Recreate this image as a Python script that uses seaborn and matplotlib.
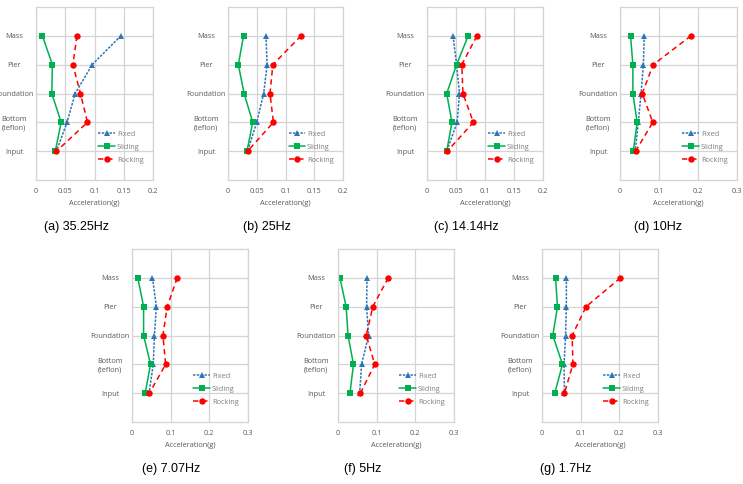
import matplotlib
matplotlib.use("Agg")
import matplotlib.pyplot as plt
import pandas as pd
import seaborn as sns

# levels from top to bottom
levels = ["Mass", "Pier", "Foundation", "Bottom\n(teflon)", "Input"]
level_pos = [5, 4, 3, 2, 1]
cases = ["Fixed", "Sliding", "Rocking"]

# (a) 35.25Hz
fixed_a = [0.145, 0.096, 0.067, 0.053, 0.035]
sliding_a = [0.011, 0.028, 0.027, 0.043, 0.033]
rocking_a = [0.070, 0.063, 0.076, 0.088, 0.035]
# (b) 25Hz
fixed_b = [0.066, 0.068, 0.062, 0.050, 0.034]
sliding_b = [0.027, 0.018, 0.028, 0.043, 0.033]
rocking_b = [0.127, 0.078, 0.073, 0.079, 0.034]
# (c) 14.14Hz
fixed_c = [0.045, 0.051, 0.056, 0.052, 0.034]
sliding_c = [0.071, 0.051, 0.034, 0.043, 0.034]
rocking_c = [0.086, 0.060, 0.062, 0.080, 0.035]
# (d) 10Hz
fixed_d = [0.062, 0.060, 0.054, 0.047, 0.039]
sliding_d = [0.027, 0.033, 0.033, 0.044, 0.034]
rocking_d = [0.182, 0.085, 0.057, 0.084, 0.040]
# (e) 7.07Hz
fixed_e = [0.053, 0.063, 0.058, 0.055, 0.044]
sliding_e = [0.015, 0.030, 0.030, 0.048, 0.034]
rocking_e = [0.117, 0.091, 0.080, 0.087, 0.045]
# (f) 5Hz
fixed_f = [0.075, 0.074, 0.079, 0.061, 0.056]
sliding_f = [0.005, 0.021, 0.026, 0.040, 0.031]
rocking_f = [0.130, 0.090, 0.073, 0.095, 0.058]
# (g) 1.7Hz
fixed_g = [0.063, 0.063, 0.061, 0.057, 0.058]
sliding_g = [0.035, 0.040, 0.028, 0.053, 0.033]
rocking_g = [0.203, 0.114, 0.078, 0.080, 0.058]

captions = ["(a) 35.25Hz", "(b) 25Hz", "(c) 14.14Hz", "(d) 10Hz",
            "(e) 7.07Hz", "(f) 5Hz", "(g) 1.7Hz"]

ticks_small = [0, 0.05, 0.1, 0.15, 0.2]
ticklabels_small = ["0", "0.05", "0.1", "0.15", "0.2"]
ticks_large = [0, 0.1, 0.2, 0.3]
ticklabels_large = ["0", "0.1", "0.2", "0.3"]

panels = [
    (fixed_a, sliding_a, rocking_a, "small"),
    (fixed_b, sliding_b, rocking_b, "small"),
    (fixed_c, sliding_c, rocking_c, "small"),
    (fixed_d, sliding_d, rocking_d, "large"),
    (fixed_e, sliding_e, rocking_e, "large"),
    (fixed_f, sliding_f, rocking_f, "large"),
    (fixed_g, sliding_g, rocking_g, "large"),
]

palette = {"Fixed": "#2E75B6", "Sliding": "#00B050", "Rocking": "#FF0000"}
markers = {"Fixed": "^", "Sliding": "s", "Rocking": "o"}
dashes = {"Fixed": (1.6, 0.9), "Sliding": "", "Rocking": (3.5, 2.5)}

sns.set_theme(style="whitegrid")
plt.rcParams["font.family"] = ["Open Sans", "DejaVu Sans"]

W, H = 743, 484
fig = plt.figure(figsize=(W / 100, H / 100), dpi=100)

# axes boxes in pixels: (left, right, top, bottom)
boxes = [
    (36, 153, 7, 180), (228, 343, 7, 180), (427, 543, 7, 180), (620, 737, 7, 180),
    (132, 248, 249, 422), (338, 454, 249, 422), (542, 658, 249, 422),
]
cap_pos = [(76, 227), (267, 227), (466, 227), (658, 227),
           (171, 469), (363, 469), (566, 469)]

grid_c = "#D4D4D4"
text_c = "#595959"

for (fx, sl, rk, scale), (l, r, t, b), cap, (cx, cy) in zip(panels, boxes, captions, cap_pos):
    ax = fig.add_axes([l / W, 1 - b / H, (r - l) / W, (b - t) / H])
    df = pd.DataFrame({
        "acc": fx + sl + rk,
        "pos": level_pos * 3,
        "case": ["Fixed"] * 5 + ["Sliding"] * 5 + ["Rocking"] * 5,
    })
    sns.lineplot(data=df, x="acc", y="pos", hue="case", style="case",
                 hue_order=cases, style_order=cases, palette=palette,
                 markers=markers, dashes=dashes, sort=False, estimator=None,
                 linewidth=1.1, markersize=4.6, markeredgewidth=0, ax=ax)

    if scale == "small":
        ax.set_xlim(0, 0.2)
        ax.set_xticks(ticks_small)
        ax.set_xticklabels(ticklabels_small)
    else:
        ax.set_xlim(0, 0.3)
        ax.set_xticks(ticks_large)
        ax.set_xticklabels(ticklabels_large)
    ax.set_ylim(0, 6)
    ax.set_yticks(level_pos)
    ax.set_yticklabels(levels, ha="center", multialignment="center")
    ax.tick_params(axis="y", length=0, pad=15.8, labelsize=5.3, labelcolor=text_c)
    ax.tick_params(axis="x", length=0, pad=5.5, labelsize=5.3, labelcolor=text_c)
    ax.set_xlabel("Acceleration(g)", fontsize=5.3, color=text_c, labelpad=4)
    ax.set_ylabel("")
    ax.grid(True, color=grid_c, linewidth=0.9)
    for s in ax.spines.values():
        s.set_color(grid_c)
        s.set_linewidth(0.9)

    sns.move_legend(ax, "lower right", bbox_to_anchor=(0.97, 0.06), title=None,
                    frameon=False, fontsize=5.3, labelcolor="#808080",
                    handlelength=2.3, handletextpad=0.2, labelspacing=0.8,
                    borderpad=0.3)

    fig.text(cx / W, 1 - cy / H, cap, ha="center", va="center", fontsize=9,
             family=["Liberation Sans", "DejaVu Sans"], color="#000000")

fig.savefig("out.png", dpi=100)
